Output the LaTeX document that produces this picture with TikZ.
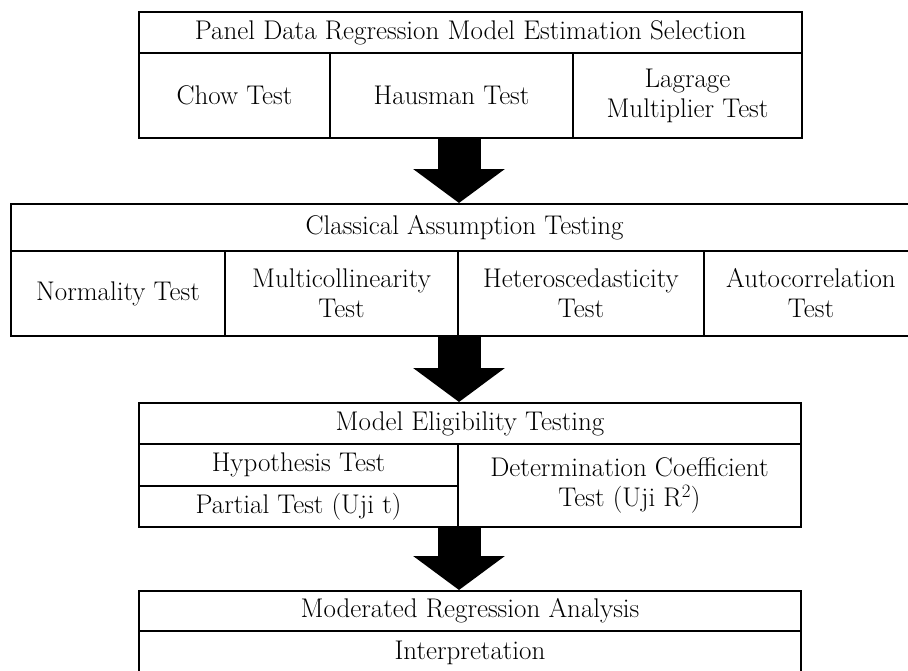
\documentclass[tikz,border=0pt]{standalone}
\usepackage{fontspec}
\usepackage{tikz}
\usetikzlibrary{positioning,arrows.meta}

\tikzset{
  cell/.style={rectangle, draw, line width=2pt, inner sep=0pt, align=center,
    font=\fontsize{27}{30}\selectfont},
  bigarrow/.style={line width=43pt, -{Triangle[length=34pt,width=90pt]}},
}

\begin{document}
\begin{tikzpicture}[x=1pt, y=-1pt]
	\useasboundingbox (0,0) rectangle (908,670);
	% model selection
	\node[cell, minimum width=663pt, minimum height=41pt] (panel) at (470.5, 32.5) {Panel Data Regression Model Estimation Selection};
	\node[cell, minimum width=191pt, minimum height=85pt] (chow) at (234.5, 95.5) {Chow Test};
	\node[cell, minimum width=243pt, minimum height=85pt] (hausman) at (451.5, 95.5) {Hausman Test};
	\node[cell, minimum width=229pt, minimum height=85pt] (lagrange) at (687.5, 95.5) {Lagrage\\Multiplier Test};
	% classical assumptions
	\node[cell, minimum width=907pt, minimum height=47pt] (classical) at (464.5, 227.5) {Classical Assumption Testing};
	\node[cell, minimum width=214pt, minimum height=85pt] (normality) at (118, 293.5) {Normality Test};
	\node[cell, minimum width=233pt, minimum height=85pt] (multi) at (341.5, 293.5) {Multicollinearity\\Test};
	\node[cell, minimum width=246pt, minimum height=85pt] (hetero) at (581, 293.5) {Heteroscedasticity\\Test};
	\node[cell, minimum width=214pt, minimum height=85pt] (autocorr) at (811, 293.5) {Autocorrelation\\Test};
	% eligibility
	\node[cell, minimum width=662pt, minimum height=41pt] (eligibility) at (470, 423.5) {Model Eligibility Testing};
	\node[cell, minimum width=319pt, minimum height=42pt] (hypothesis) at (298.5, 465) {Hypothesis Test};
	\node[cell, minimum width=319pt, minimum height=41pt] (partial) at (298.5, 506.5) {Partial Test (Uji t)};
	\node[cell, minimum width=343pt, minimum height=83pt] (determination) at (629.5, 485.5) {Determination Coefficient\\Test (Uji R\textsuperscript{2})};
	% analysis
	\node[cell, minimum width=662pt, minimum height=40pt] (mra) at (470, 611) {Moderated Regression Analysis};
	\node[cell, minimum width=662pt, minimum height=44pt] (interp) at (470, 653) {Interpretation};
	% block arrows
	\draw[bigarrow] (hausman.south -| multi.north east) -- (multi.north east |- classical.north);
	\draw[bigarrow] (multi.south east) -- (multi.south east |- eligibility.north);
	\draw[bigarrow] (partial.south east) -- (partial.south east |- mra.north);
\end{tikzpicture}
\end{document}
